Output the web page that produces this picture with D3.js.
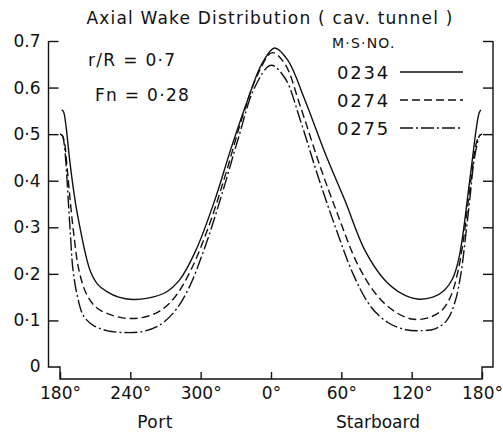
<!DOCTYPE html>
<html>
<head>
<meta charset="utf-8">
<script src="https://cdn.jsdelivr.net/npm/d3@7"></script>
<style>
  html, body { margin: 0; padding: 0; background: #fff; }
  svg text { font-family: "DejaVu Sans", sans-serif; fill: #111; }
</style>
</head>
<body>
<svg id="chart" width="503" height="438"></svg>
<script>
// Circumferential angle (deg, port negative) and axial wake fraction per model
const angles0234 = [-178.5,-177,-175,-172,-169,-166,-163,-158,-154,-148,-140,-130,-118,-105,-90,-78,-64,-48,-34,-20,-8,3,14,29,46,63,80,97,112,125,138,148,155,160,164,168,172,175,177.5,179];
const wake0234   = [0.552,0.548,0.52,0.45,0.39,0.34,0.30,0.24,0.205,0.178,0.162,0.150,0.145,0.148,0.16,0.187,0.251,0.358,0.47,0.573,0.65,0.685,0.66,0.573,0.46,0.358,0.251,0.187,0.157,0.146,0.15,0.165,0.19,0.23,0.29,0.37,0.45,0.51,0.545,0.552];

const angles0274 = [-180,-178,-176,-174,-171,-168,-164,-158,-150,-140,-125,-110,-95,-82,-68,-52,-38,-24,-11,1,12,25,42,58,74,90,105,120,133,145,153,159,164,168,172,175,178,180];
const wake0274   = [0.50,0.497,0.48,0.43,0.35,0.28,0.21,0.16,0.13,0.115,0.105,0.106,0.12,0.15,0.21,0.31,0.42,0.54,0.63,0.675,0.65,0.56,0.43,0.32,0.22,0.155,0.12,0.103,0.105,0.12,0.15,0.2,0.27,0.35,0.43,0.48,0.497,0.50];

const angles0275 = [-180,-178,-176.5,-175,-173,-171,-169,-165,-160,-152,-140,-125,-110,-95,-82,-70,-56,-42,-28,-14,0,12,25,40,55,70,85,100,115,128,140,150,157,162,166,170,173,176,178,180];
const wake0275   = [0.50,0.497,0.48,0.44,0.36,0.28,0.21,0.15,0.11,0.09,0.078,0.074,0.076,0.09,0.12,0.17,0.26,0.37,0.49,0.60,0.648,0.62,0.53,0.41,0.30,0.20,0.13,0.095,0.08,0.078,0.082,0.10,0.14,0.2,0.28,0.37,0.44,0.48,0.497,0.50];

const seriesNames = ["0234", "0274", "0275"];
const seriesDash  = [null, "8,4", "13,3,2,3"];

const xTickValues = [-180, -120, -60, 0, 60, 120, 180];
const xTickLabels = ["180°", "240°", "300°", "0°", "60°", "120°", "180°"];
const yTickValues = [0, 0.1, 0.2, 0.3, 0.4, 0.5, 0.6, 0.7];
const yTickLabels = ["0", "0·1", "0·2", "0·3", "0·4", "0·5", "0.6", "0.7"];

const svg = d3.select("#chart");
const x = d3.scaleLinear().domain([-180, 180]).range([60, 482]);
const y = d3.scaleLinear().domain([0, 0.7]).range([367, 41]);
const axisL = 48.5, axisR = 493, baseY = 379;

// Stepped frame: left axis, drop to the angle axis, right axis
const frame = d3.path();
frame.moveTo(axisL, y(0.7));
frame.lineTo(axisL, y(0));
frame.lineTo(x(-180), y(0));
frame.lineTo(x(-180), baseY);
frame.lineTo(x(180), baseY);
frame.lineTo(x(180), y(0));
frame.lineTo(axisR, y(0));
frame.lineTo(axisR, y(0.7));
svg.append("path").attr("d", frame.toString())
  .attr("fill", "none").attr("stroke", "#111").attr("stroke-width", 1.4);

// Left value axis, ticks pointing inward
const gL = svg.append("g").attr("transform", `translate(${axisL},0)`)
  .call(d3.axisLeft(y).tickValues(yTickValues.slice(1)).tickSize(-10).tickPadding(8)
    .tickFormat((d, i) => yTickLabels[i + 1]));
gL.select(".domain").remove();
gL.selectAll("line").attr("stroke", "#111").attr("stroke-width", 1.4);
gL.selectAll("text").attr("font-size", 17).attr("fill", "#111").attr("font-family", null);
svg.append("text").attr("x", axisL - 8).attr("y", y(0)).attr("dy", "0.32em")
  .attr("text-anchor", "end").attr("font-size", 17).text(yTickLabels[0]);

// Right value axis, ticks pointing inward
const gR = svg.append("g").attr("transform", `translate(${axisR},0)`)
  .call(d3.axisRight(y).tickValues(yTickValues.slice(1)).tickSize(-10).tickFormat(""));
gR.select(".domain").remove();
gR.selectAll("line").attr("stroke", "#111").attr("stroke-width", 1.4);

// Angle axis
const gB = svg.append("g").attr("transform", `translate(0,${baseY})`)
  .call(d3.axisBottom(x).tickValues(xTickValues).tickSize(-7).tickPadding(8)
    .tickFormat((d, i) => xTickLabels[i]));
gB.select(".domain").remove();
gB.selectAll("line").attr("stroke", "#111").attr("stroke-width", 1.4);
gB.selectAll("text").attr("font-size", 17).attr("fill", "#111").attr("font-family", null);

svg.append("text").attr("x", 155).attr("y", 428).attr("text-anchor", "middle")
  .attr("font-size", 17).attr("letter-spacing", 0.5).text("Port");
svg.append("text").attr("x", 378).attr("y", 428).attr("text-anchor", "middle")
  .attr("font-size", 17).text("Starboard");

// Title and run conditions
svg.append("text").attr("x", 270).attr("y", 24).attr("text-anchor", "middle")
  .attr("font-size", 17).attr("letter-spacing", 1.2).text("Axial Wake Distribution ( cav. tunnel )");
svg.append("text").attr("x", 88).attr("y", 66).attr("font-size", 17).attr("letter-spacing", 1.3).text("r/R = 0·7");
svg.append("text").attr("x", 95).attr("y", 101).attr("font-size", 17).attr("letter-spacing", 1.3).text("Fn = 0·28");

// Wake curves
const line = d3.line().x(d => x(d[0])).y(d => y(d[1])).curve(d3.curveCatmullRom.alpha(0.5));
const data = [
  d3.zip(angles0234, wake0234),
  d3.zip(angles0274, wake0274),
  d3.zip(angles0275, wake0275)
];
data.forEach((pts, i) => {
  svg.append("path").datum(pts).attr("d", line)
    .attr("fill", "none").attr("stroke", "#111").attr("stroke-width", 1.4)
    .attr("stroke-dasharray", seriesDash[i]);
});

// Legend
svg.append("text").attr("x", 332).attr("y", 48).attr("font-size", 14)
  .attr("letter-spacing", 1.2).text("M·S·NO.");
const legY = [72, 100, 128];
seriesNames.forEach((name, i) => {
  svg.append("text").attr("x", 337).attr("y", legY[i] + 7).attr("font-size", 18)
    .attr("letter-spacing", 1.8).text(name);
  svg.append("line").attr("x1", 400).attr("x2", 463).attr("y1", legY[i]).attr("y2", legY[i])
    .attr("stroke", "#111").attr("stroke-width", 1.4).attr("stroke-dasharray", seriesDash[i]);
});
</script>
</body>
</html>
